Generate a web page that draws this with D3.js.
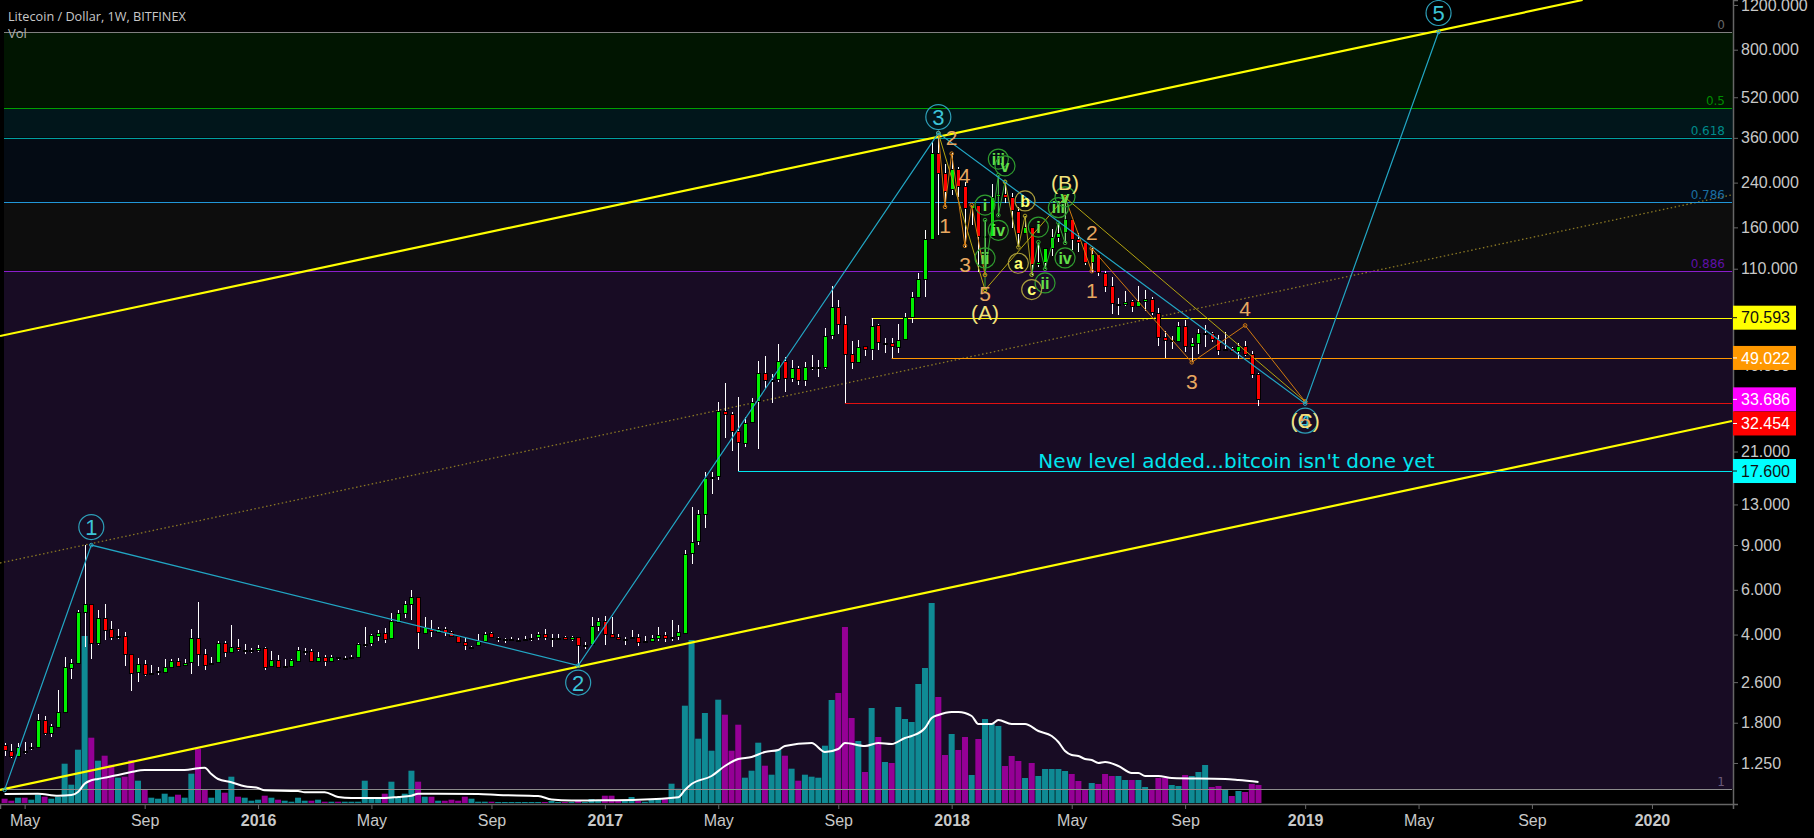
<!DOCTYPE html>
<html>
<head>
<meta charset="utf-8">
<title>Litecoin / Dollar</title>
<script src="https://cdn.jsdelivr.net/npm/d3@7/dist/d3.min.js"></script>
<style>
  html, body { margin: 0; padding: 0; background: #000; overflow: hidden; }
  svg { display: block; }
</style>
</head>
<body>
<div id="chart"></div>
<script>
// weekly candles, first one is the week of 2015-04-13
var opens = [1.47,1.39,1.33,1.39,1.44,1.45,1.85,1.64,1.73,1.98,
  2.96,3.10,4.91,5.27,3.71,4.65,4.21,3.95,3.95,3.36,
  2.86,3.07,2.83,2.88,2.86,2.99,3.15,3.04,3.13,3.88,
  3.36,3.10,3.13,3.71,3.42,3.58,3.48,3.48,3.48,3.55,
  3.02,3.18,3.02,3.02,3.15,3.45,3.45,3.15,3.27,3.15,
  3.27,3.24,3.24,3.27,3.68,3.71,3.95,4.06,3.88,4.49,
  4.87,5.27,5.62,4.06,4.21,4.10,4.21,4.10,3.95,3.74,
  3.58,3.64,3.78,4.06,3.88,3.85,3.85,3.81,3.85,3.88,
  3.92,4.02,3.88,3.88,3.92,3.85,3.92,3.64,3.68,4.33,
  4.53,4.02,3.92,3.85,3.88,3.92,3.74,3.78,3.88,3.99,
  3.88,3.95,4.06,8.38,9.33,11.96,16.6,16.85,30.3,29.5,
  25.3,22.7,27.5,33.2,42.9,40.1,40.4,47.7,40.8,44.7,
  40.1,45.1,45.1,45.1,60.4,77.8,66.7,50.8,47.2,54.6,
  53.2,66.1,56.1,56.1,54.1,58.2,71.1,85.2,100.3,144,
  314,262,226.5,271.5,232.8,190.7,196,148,148,212.6,
  216.5,210.7,185.6,152,160.6,114.9,117,133,147,153,
  172.7,144,140,117,125.8,105.9,94,79.9,79.9,82.2,
  78.5,82.2,83.7,73.6,59.3,57.7,57.2,65.5,54.6,56.1,
  61.5,61.5,58.2,52.7,53.7,52.2,54.6,50.8,42.4];

var highs = [1.50,1.49,1.50,1.51,1.50,1.95,1.91,1.78,2.42,3.27,
  3.21,5.00,9.00,5.27,5.00,5.27,4.53,4.21,4.10,3.36,
  3.24,3.18,3.04,2.99,3.21,3.21,3.24,3.21,4.21,5.37,
  3.51,3.27,3.78,3.78,4.37,3.85,3.68,3.55,3.64,3.58,
  3.45,3.33,3.21,3.21,3.58,3.55,3.51,3.42,3.33,3.33,
  3.27,3.30,3.33,3.71,4.29,4.02,4.17,4.25,4.87,5.00,
  5.42,5.99,5.62,4.70,4.57,4.29,4.29,4.14,3.95,3.88,
  3.61,4.02,4.10,4.10,3.92,3.88,3.92,3.88,3.95,4.02,
  4.10,4.21,4.02,4.02,3.95,3.95,3.92,3.74,4.70,4.65,
  4.74,4.70,4.02,3.92,4.17,4.02,3.95,3.99,4.29,4.10,
  4.57,4.37,8.61,12.7,12.4,17.5,17.5,32.9,39.0,30.0,
  34.4,28.8,34.1,47.7,49.8,42.4,55.6,49.4,48.1,45.5,
  47.2,50.3,48.1,64.4,94.1,82.9,71.5,57.2,57.7,54.6,
  70.5,66.7,58.7,58.7,66.7,73.7,89.1,105.9,156,347,
  376,284,314,276.5,241,196,196,171,237,257,
  241,218.5,192.6,177.4,160.6,140,133,158,166.5,210.7,
  172.7,152,140,132.8,125.8,107.8,102,84.4,90,82.9,
  94,90.8,85.2,77.1,62.6,59.8,67.9,69.2,58.7,63.8,
  66.1,62,60.4,62,54.1,56.1,57.2,52.2,42.9];

var lows = [1.33,1.31,1.32,1.36,1.41,1.43,1.61,1.58,1.73,1.97,
  2.67,3.10,3.58,3.21,3.64,3.81,3.81,3.85,3.02,2.40,
  2.60,2.76,2.78,2.78,2.86,2.96,3.02,3.04,2.81,3.02,
  2.91,3.04,3.10,3.27,3.42,3.45,3.36,3.39,3.42,2.91,
  2.99,2.99,2.99,3.02,3.13,3.33,3.13,3.15,3.02,3.15,
  3.18,3.21,3.24,3.24,3.58,3.61,3.78,3.71,3.88,4.45,
  4.65,4.57,3.51,4.06,3.92,4.10,3.95,3.95,3.74,3.48,
  3.51,3.64,3.78,3.92,3.74,3.71,3.85,3.78,3.78,3.78,
  3.81,3.81,3.58,3.85,3.85,3.78,3.02,3.51,3.64,4.14,
  3.64,3.88,3.85,3.64,3.88,3.61,3.74,3.78,3.78,3.74,
  3.78,3.81,4.06,7.58,9.0,10.5,14.27,16.2,23.7,21.1,
  17.6,21.9,27.3,21.5,37.3,32.6,39.4,36.0,39.4,38.3,
  38.0,43.9,41.2,44.3,58.2,60.9,32.5,44.3,47.2,49.8,
  48.1,52.7,51.3,48.9,51.3,57.7,67.3,85.2,85.2,144,
  149.4,192.6,214.6,210.7,134,163.5,106.8,104,148,177.4,
  199.6,159,134,152,103.9,111.6,109.8,123.5,140,138.9,
  130.4,128,113.8,106.8,103,89,72.9,72.2,78.5,74.3,
  78.5,75,72.2,54.6,48.9,53.2,57.2,51.8,47.2,50.8,
  54.1,56.6,50.3,52.7,52.2,48.5,49.8,40.8,31.7];

var closes = [1.40,1.33,1.44,1.38,1.44,1.85,1.64,1.74,1.98,2.99,
  3.10,4.91,5.27,3.71,4.65,4.17,3.92,3.95,3.36,2.83,
  3.07,2.81,2.83,2.88,2.99,3.15,3.02,3.10,3.88,3.36,
  3.04,3.10,3.71,3.42,3.58,3.51,3.48,3.48,3.55,2.99,
  3.18,2.99,3.02,3.18,3.48,3.45,3.15,3.27,3.15,3.27,
  3.24,3.24,3.27,3.68,3.68,3.99,4.06,3.85,4.53,4.87,
  5.27,5.62,4.10,4.29,4.14,4.21,4.10,3.95,3.74,3.64,
  3.58,3.78,4.02,3.92,3.88,3.85,3.85,3.81,3.85,3.88,
  4.02,3.92,3.88,3.88,3.85,3.92,3.64,3.64,4.33,4.53,
  4.02,3.92,3.85,3.85,3.92,3.74,3.78,3.88,3.99,3.88,
  3.92,4.10,8.30,9.25,11.96,16.5,16.6,30.3,29.5,25.3,
  22.9,27.3,32.9,42.9,40.1,40.1,47.7,40.8,44.7,40.1,
  45.1,45.1,45.1,59.8,77.8,66.7,50.8,47.2,54.1,53.2,
  65.5,56.6,56.1,54.6,57.7,71.1,85.2,100.3,144,314,
  262,222.5,271.5,232.8,191,196,148,148,210.7,216.5,
  210.7,187.3,152,160.6,114.9,117,133,147,152,172.7,
  144,140,117,125.8,106.8,94,80.6,79.9,81.4,78.5,
  82.2,83.7,74.3,59.3,57.7,57.7,65.5,54.6,56.1,61.5,
  61.5,58.2,52.7,53.2,52.2,54.6,50.8,42.4,33.7];

var volumes = [4.3,2.3,5.3,5.3,3.3,8.3,6.3,4.3,6,39.3,
  18.3,53.3,167,65.3,42.3,47.3,38.3,25.3,26.3,43,
  22.3,14,5.3,4.3,9.3,6.3,8.3,5.3,29.3,54.3,
  14,5.3,13.3,10.3,26.3,6.3,5.3,2.3,3.3,7.3,
  5.3,3.3,2.3,1.3,5.3,2.3,2.3,3.3,1.3,1.3,
  1.3,1.3,1.3,1.3,22.3,5.3,5.3,9.3,21.3,5.3,
  9.3,32.3,21.3,6.3,6.3,2.3,2.3,3.3,2.3,6.3,
  4.3,1.3,1.3,1.3,1,1,1,1,1,1,
  1,1,2,1,1,1,2,1,4,3,
  7.3,7.3,3,2,6,2,1.3,3,4.6,4,
  19.3,14.3,97.3,163,64.3,90,52.3,103.3,88.3,52.3,
  78.3,25.3,32.3,60.3,37.3,28.3,53.3,47.3,34.3,22.3,
  28.3,26.3,25.3,57.3,103,110,176,85,62,31,
  95,66,41,40,96,84,81,119,135,200,
  106,48,69,53,66,28,64,84,79,77,
  37,47,42,25,40,27,34,34,34,32,
  29,22,14,20,19,29,27,27,23,23,
  23,16,14,25,25,18,17,28,27,31,
  38,16,17,14,7,12,11,19,18];

// volume moving average, the bends of the white line
var maWeeks = [0,5,8,10,11,12,13,14,17,19,21,27,29,30,31,32,34,36,38,39,44,45,48,50,52,57,59,61,62,71,74,80,82,85,89,95,101,102,103,106,108,110,112,114,116,117,121,123,125,126,129,131,133,135,136,138,139,140,142,143,145,146,148,149,151,153,155,157,158,159,160,161,162,163,164,165,167,169,170,171,173,175,183,185,188];
var maValues = [9,9.3,7.3,8,11,19.3,22.7,24,28,31,33,33,34.7,35.3,29,24,20.7,16.7,15,12.7,12,10.7,10.7,6,5,5,6,7.3,9.3,9,8,7,3.5,2.5,2.7,3.3,5.7,13,19,27,37,44,46,51,53,57,60,51,54,60,57,60,59,65,67,75,85,88,91,91,87,79,79,83,79,79,72,67,61,52,48,47,44,43,40,41,37,30,30,27,27,25,24,23,21];

// axes
var tickWeeks = [3,21,38,55,73,90,107,125,142,160,177,195,212,229,247];
var tickLabels = ["May","Sep","2016","May","Sep","2017","May","Sep","2018","May","Sep","2019","May","Sep","2020"];
var priceTicks = [1200,800,520,360,240,160,110,46,21,13,9,6,4,2.6,1.8,1.25];

// fib retracement
var fibRatios = ["0","0.5","0.618","0.786","0.886","1"];
var fibPrices = [939,472,361,201,108,0.988];
var fibLineColors = ["#808080","#00a000","#00a0a0","#2196d8","#8a1ecc","#8c8c8c"];
var fibTextColors = ["#666666","#008a00","#008a8a","#1b6ea0","#5f10a8","#6a5a7a"];
var fibFills = ["#011501","#01161b","#040b14","#0d0d0d","#180c24"];

// horizontal levels and price tags
var levelPrices = [70.593,49.022,32.454,17.6];
var levelWeeks = [130,133,126,110];
var levelColors = ["#ffff00","#ff9800","#e01010","#00e5ee"];
var tagPrices = [70.593,49.022,33.686,32.454,17.6];
var tagNudge = [0,0,0,20,0];
var tagFills = ["#ffff00","#ff9800","#ff00ff","#ff0000","#00ffff"];
var tagInk = ["#111","#fff","#fff","#fff","#111"];

// channel, [week, price]
var channelUpper = [[-0.69,59.8],[236.6,1255]];
var channelLower = [[-0.69,0.979],[259,27.7]];
var channelMid = [[-0.69,7.65],[259,214.8]];

// wave counts, [week, price]
var primaryWave = [[0,0.98],[13,9.0],[86,3.02],[140,376],[195,32.4],[215,939]];
var abcWave = [[140,376],[147,90.8],[159,210],[195,33]];
var orangeWaveA = [[140,376],[141,192.6],[142,312],[144,135.4],[145,196],[147,104]];
var orangeWaveB = [[159,210],[163,107.6],[163,132.2],[178,47.1],[186,65.8],[195,33]];
var greenWaveA = [[147,90.8],[147,171],[147,104],[149,257],[149,178.5],[150,241.6]];
var yellowWave = [[150,241.6],[152,133.6],[153,177.4],[154,104.3]];
var greenWaveB = [[154,104.3],[155,140],[156,109.8],[158,167],[159,139],[159,211]];

// labels, week, price, text and a pixel nudge from the point
var primaryLabels = [[13,9.0,"1",-18],[86,3.02,"2",17],[140,376,"3",-16],[195,32.4,"4",17],[215,939,"5",-19]];
var orangeLabels = [[141,192.6,"1",0,19],[142,312,"2",0,-16],[144,135.4,"3",0,19],[145,196,"4",-7,-30],[147,104,"5",0,19],
  [163,107.6,"1",0,19],[163,132.2,"2",0,-16],[178,47.1,"3",0,19],[186,65.8,"4",0,-17],[195,33,"5",0,19]];
var greenLabels = [[147,171,"i",-15],[147,104,"ii",-17],[149,257,"iii",-16],[149,178.5,"iv",15],[150,241.6,"v",-16],
  [155,140,"i",-15],[156,109.8,"ii",14],[158,167,"iii",-15],[159,139,"iv",15],[159,211,"v",0]];
var yellowLabels = [[152,133.6,"a",16],[153,177.4,"b",-15],[154,104.3,"c",15]];
var abcLabels = [[147,90.8,"(A)",23],[159,210,"(B)",-15],[195,33,"(C)",19]];
var note = "New level added...bitcoin isn't done yet";
var noteAt = [155,18.1];

var svgWidth = 1814;
var svgHeight = 838;
var plotRight = 1733;
var plotBottom = 804;
var plotLeft = 4;

var svg = d3.select("#chart")
  .append("svg")
  .attr("width", svgWidth)
  .attr("height", svgHeight)
  .style("background", "#000");

var x = d3.scaleLinear().domain([-0.69, 259.15]).range([0, plotRight]);
var y = d3.scaleLog().domain([1255, 0.862]).range([0, plotBottom]);
var yVol = d3.scaleLinear().domain([0, 200]).range([803, 603]);

var weekLine = d3.line().x(d => x(d[0])).y(d => y(d[1]));
var maLine = d3.line().x(d => x(d[0])).y(d => yVol(d[1])).curve(d3.curveMonotoneX);

// fib bands and lines
svg.append("g").selectAll("rect")
  .data(fibFills)
  .enter()
  .append("rect")
  .attr("x", plotLeft)
  .attr("width", plotRight - plotLeft)
  .attr("y", (d, i) => y(fibPrices[i]))
  .attr("height", (d, i) => y(fibPrices[i + 1]) - y(fibPrices[i]))
  .attr("fill", d => d);

function drawPath(points, color, width, dash) {
  return svg.append("path")
    .attr("d", weekLine(points))
    .attr("fill", "none")
    .attr("stroke", color)
    .attr("stroke-width", width)
    .attr("stroke-dasharray", dash || null);
}

drawPath(channelMid, "#8a7824", 1.3, "1.5 2.5");

// volume
var bars = opens.map(function(o, i) {
  return { week: i, open: o, high: highs[i], low: lows[i], close: closes[i], vol: volumes[i] };
});

svg.append("g").selectAll("rect")
  .data(bars)
  .enter()
  .append("rect")
  .attr("x", d => x(d.week) - 3)
  .attr("width", 6)
  .attr("y", d => yVol(d.vol))
  .attr("height", d => yVol(0) - yVol(d.vol))
  .attr("fill", d => d.close >= d.open ? "#0f8a94" : "#950095");

// fib lines go over the volume
svg.append("g").selectAll("line")
  .data(fibPrices)
  .enter()
  .append("line")
  .attr("x1", plotLeft)
  .attr("x2", plotRight - 1)
  .attr("y1", d => Math.round(y(d)) + 0.5)
  .attr("y2", d => Math.round(y(d)) + 0.5)
  .attr("stroke", (d, i) => fibLineColors[i])
  .attr("stroke-width", 1.2);

svg.append("g").selectAll("text")
  .data(fibRatios)
  .enter()
  .append("text")
  .attr("x", 1725)
  .attr("y", (d, i) => y(fibPrices[i]) - 3)
  .attr("text-anchor", "end")
  .attr("font-family", "'DejaVu Sans'")
  .attr("font-size", "12px")
  .attr("fill", (d, i) => fibTextColors[i])
  .text(d => d);

// channel
drawPath(channelUpper, "#ffff00", 2.2);
drawPath(channelLower, "#ffff00", 2.2);

// volume average
svg.append("path")
  .attr("d", maLine(maWeeks.map((w, i) => [w, maValues[i]])))
  .attr("fill", "none")
  .attr("stroke", "#ffffff")
  .attr("stroke-width", 2);

// levels
svg.append("g").selectAll("line")
  .data(levelPrices)
  .enter()
  .append("line")
  .attr("x1", (d, i) => x(levelWeeks[i]))
  .attr("x2", plotRight - 1)
  .attr("y1", d => Math.round(y(d)) + 0.5)
  .attr("y2", d => Math.round(y(d)) + 0.5)
  .attr("stroke", (d, i) => levelColors[i])
  .attr("stroke-width", 1.2);

// candles
var candles = svg.append("g").attr("shape-rendering", "crispEdges");

candles.selectAll("line")
  .data(bars)
  .enter()
  .append("line")
  .attr("x1", d => Math.round(x(d.week)) + 0.5)
  .attr("x2", d => Math.round(x(d.week)) + 0.5)
  .attr("y1", d => y(d.high))
  .attr("y2", d => y(d.low))
  .attr("stroke", "#fff");

candles.selectAll("rect")
  .data(bars)
  .enter()
  .append("rect")
  .attr("x", d => Math.round(x(d.week)) - 1.5)
  .attr("width", 4)
  .attr("y", d => Math.round(y(Math.max(d.open, d.close))))
  .attr("height", d => Math.max(1, Math.round(y(Math.min(d.open, d.close))) - Math.round(y(Math.max(d.open, d.close)))))
  .attr("fill", d => d.close >= d.open ? "#00f000" : "#ff0000")
  .attr("stroke", "#000")
  .attr("stroke-width", 1);

// wave lines
function drawWave(points, color, width) {
  drawPath(points, color, width);
  svg.append("g").selectAll("circle")
    .data(points)
    .enter()
    .append("circle")
    .attr("cx", d => x(d[0]))
    .attr("cy", d => y(d[1]))
    .attr("r", 1.8)
    .attr("fill", "none")
    .attr("stroke", color);
}

drawWave(greenWaveA, "#2fa82f", 1);
drawWave(greenWaveB, "#2fa82f", 1);
drawWave(yellowWave, "#a89c20", 1);
drawWave(abcWave, "#b3a410", 1);
drawWave(orangeWaveA, "#d07a10", 1);
drawWave(orangeWaveB, "#d07a10", 1);
drawWave(primaryWave, "#22a6c4", 1.2);

// circled labels
function circled(rows, radius, lineColor, inkColor, fontSize, weight) {
  var g = svg.append("g").selectAll("g")
    .data(rows)
    .enter()
    .append("g")
    .attr("transform", d => `translate(${x(d[0])}, ${y(d[1]) + d[3]})`);

  g.append("circle")
    .attr("r", radius)
    .attr("fill", "none")
    .attr("stroke", lineColor)
    .attr("stroke-width", 1.2);

  g.append("text")
    .attr("text-anchor", "middle")
    .attr("dy", "0.36em")
    .attr("font-family", "'Liberation Sans'")
    .attr("font-size", fontSize + "px")
    .attr("font-weight", weight)
    .attr("fill", inkColor)
    .text(d => d[2]);
}

circled(greenLabels, 10, "#2f9c2f", "#62e04a", 16, "bold");
circled(yellowLabels, 10, "#a89c3c", "#ffff70", 16, "bold");
circled(primaryLabels, 12.5, "#2d9fb8", "#3cc4d8", 22, "normal");

// plain labels
svg.append("g").selectAll("text")
  .data(orangeLabels)
  .enter()
  .append("text")
  .attr("x", d => x(d[0]) + d[3])
  .attr("y", d => y(d[1]) + d[4])
  .attr("dy", "0.36em")
  .attr("text-anchor", "middle")
  .attr("font-family", "'Liberation Sans'")
  .attr("font-size", "21px")
  .attr("fill", "#e8a860")
  .text(d => d[2]);

svg.append("g").selectAll("text")
  .data(abcLabels)
  .enter()
  .append("text")
  .attr("x", d => x(d[0]))
  .attr("y", d => y(d[1]) + d[3])
  .attr("dy", "0.36em")
  .attr("text-anchor", "middle")
  .attr("font-family", "'Liberation Sans'")
  .attr("font-size", "21px")
  .attr("fill", "#f2e27c")
  .text(d => d[2]);

svg.append("text")
  .attr("x", x(noteAt[0]))
  .attr("y", y(noteAt[1]))
  .attr("font-family", "'DejaVu Sans'")
  .attr("font-size", "20px")
  .attr("fill", "#00e5ee")
  .text(note);

// axes
var axisRight = d3.axisRight(y)
  .tickValues(priceTicks)
  .tickFormat(d3.format(".3f"))
  .tickSize(5)
  .tickPadding(3);

var axisBottom = d3.axisBottom(x)
  .tickValues(tickWeeks)
  .tickFormat((d, i) => tickLabels[i])
  .tickSize(5)
  .tickPadding(6);

var yAxis = svg.append("g")
  .attr("transform", `translate(${plotRight}, 0)`)
  .call(axisRight);

var xAxis = svg.append("g")
  .attr("transform", `translate(0, ${plotBottom})`)
  .call(axisBottom);

[yAxis, xAxis].forEach(function(axis) {
  axis.attr("font-family", "'Liberation Sans'").attr("font-size", "16px");
  axis.select(".domain").attr("stroke", "#666").attr("stroke-width", 1.5);
  axis.selectAll(".tick line").attr("stroke", "#666");
  axis.selectAll("text").attr("fill", "#c8c8c8");
});

xAxis.selectAll("text")
  .attr("font-weight", (d, i) => /^20/.test(tickLabels[i]) ? "bold" : "normal");

// price tags
var tags = svg.append("g").selectAll("g")
  .data(tagPrices)
  .enter()
  .append("g")
  .attr("transform", (d, i) => `translate(${plotRight}, ${y(d) + tagNudge[i]})`);

tags.append("rect")
  .attr("y", -12)
  .attr("width", 63)
  .attr("height", 24)
  .attr("fill", (d, i) => tagFills[i]);

tags.append("line")
  .attr("x2", 4)
  .attr("stroke", (d, i) => tagInk[i]);

tags.append("text")
  .attr("x", 8)
  .attr("dy", "0.36em")
  .attr("font-family", "'Liberation Sans'")
  .attr("font-size", "16px")
  .attr("fill", (d, i) => tagInk[i])
  .text(d => d3.format(".3f")(d));

// title
svg.append("text")
  .attr("x", 8)
  .attr("y", 21)
  .attr("font-family", "'Open Sans'")
  .attr("font-size", "12.7px")
  .attr("fill", "#c8c8c8")
  .text("Litecoin / Dollar, 1W, BITFINEX");

svg.append("text")
  .attr("x", 8)
  .attr("y", 38)
  .attr("font-family", "'Open Sans'")
  .attr("font-size", "13px")
  .attr("fill", "#b0b0b0")
  .text("Vol");
</script>
</body>
</html>
